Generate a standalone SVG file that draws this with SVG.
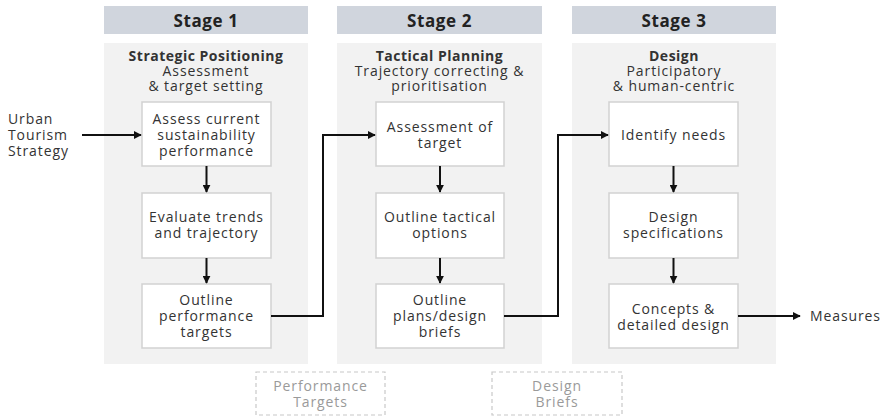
<svg xmlns="http://www.w3.org/2000/svg" width="884" height="417" viewBox="0 0 884 417">
<style>
text{font-family:"Open Sans","DejaVu Sans",sans-serif;fill:#333;text-anchor:middle}
.hdr{fill:#d0d5dd}
.hdt{font-size:17px;font-weight:bold;fill:#222;letter-spacing:0.6px}
.panel{fill:#f2f2f2}
.box{fill:#fff;stroke:#d2d2d2;stroke-width:1.5}
.t{font-size:14px;letter-spacing:0.9px}
.b{font-weight:bold;letter-spacing:0.5px}
.dash{fill:none;stroke:#c8c8c8;stroke-width:1.2;stroke-dasharray:4 3}
.dt{font-size:14px;fill:#9a9a9a;letter-spacing:0.9px}
.c{fill:none;stroke:#111;stroke-width:2}
.l{text-anchor:start}
</style>
<defs>
<marker id="ah" viewBox="0 0 10 10" refX="9" refY="5" markerWidth="4" markerHeight="4" orient="auto" markerUnits="strokeWidth">
<path d="M0,0 L10,5 L0,10 z" fill="#111"/>
</marker>
</defs>
<g id="stage1">
<rect class="hdr" x="104" y="6" width="204" height="28"/>
<text class="hdt" x="206" y="27">Stage 1</text>
<rect class="panel" x="104" y="43" width="204" height="321"/>
<text class="t b" x="206" y="61">Strategic Positioning</text>
<text class="t" x="206" y="76">Assessment</text>
<text class="t" x="206" y="91">&amp; target setting</text>
</g>
<g id="stage2">
<rect class="hdr" x="337" y="6" width="205" height="28"/>
<text class="hdt" x="439.5" y="27">Stage 2</text>
<rect class="panel" x="337" y="43" width="205" height="321"/>
<text class="t b" x="439.5" y="61">Tactical Planning</text>
<text class="t" x="439.5" y="76">Trajectory correcting &amp;</text>
<text class="t" x="439.5" y="91">prioritisation</text>
</g>
<g id="stage3">
<rect class="hdr" x="572" y="6" width="204" height="28"/>
<text class="hdt" x="674" y="27">Stage 3</text>
<rect class="panel" x="572" y="43" width="204" height="321"/>
<text class="t b" x="674" y="61">Design</text>
<text class="t" x="674" y="76">Participatory</text>
<text class="t" x="674" y="91">&amp; human-centric</text>
</g>
<g id="n-assess">
<rect class="box" x="142" y="102" width="129" height="64"/>
<text class="t" x="206.5" y="124">Assess current</text>
<text class="t" x="206.5" y="140">sustainability</text>
<text class="t" x="206.5" y="156">performance</text>
</g>
<g id="n-evaluate">
<rect class="box" x="142" y="193" width="129" height="65"/>
<text class="t" x="206.5" y="222">Evaluate trends</text>
<text class="t" x="206.5" y="238">and trajectory</text>
</g>
<g id="n-targets">
<rect class="box" x="142" y="284" width="129" height="64"/>
<text class="t" x="206.5" y="305">Outline</text>
<text class="t" x="206.5" y="321">performance</text>
<text class="t" x="206.5" y="337">targets</text>
</g>
<g id="n-asstarget">
<rect class="box" x="376" y="102" width="128" height="64"/>
<text class="t" x="440" y="132">Assessment of</text>
<text class="t" x="440" y="148">target</text>
</g>
<g id="n-tactical">
<rect class="box" x="376" y="193" width="128" height="65"/>
<text class="t" x="440" y="222">Outline tactical</text>
<text class="t" x="440" y="238">options</text>
</g>
<g id="n-plans">
<rect class="box" x="376" y="284" width="128" height="64"/>
<text class="t" x="440" y="305">Outline</text>
<text class="t" x="440" y="321">plans/design</text>
<text class="t" x="440" y="337">briefs</text>
</g>
<g id="n-needs">
<rect class="box" x="609" y="102" width="129" height="64"/>
<text class="t" x="673.5" y="140">Identify needs</text>
</g>
<g id="n-spec">
<rect class="box" x="609" y="193" width="129" height="65"/>
<text class="t" x="673.5" y="222">Design</text>
<text class="t" x="673.5" y="238">specifications</text>
</g>
<g id="n-concepts">
<rect class="box" x="609" y="284" width="129" height="64"/>
<text class="t" x="673.5" y="314">Concepts &amp;</text>
<text class="t" x="673.5" y="330">detailed design</text>
</g>
<g id="n-urban">
<text class="t l" x="8" y="124">Urban</text>
<text class="t l" x="8" y="140">Tourism</text>
<text class="t l" x="8" y="156">Strategy</text>
</g>
<g id="n-measures">
<text class="t l" x="810" y="321">Measures</text>
</g>
<g id="n-perf">
<rect class="dash" x="256" y="372" width="129" height="43"/>
<text class="dt" x="320.5" y="391">Performance</text>
<text class="dt" x="320.5" y="407">Targets</text>
</g>
<g id="n-briefs">
<rect class="dash" x="492" y="372" width="130" height="43"/>
<text class="dt" x="557" y="391">Design</text>
<text class="dt" x="557" y="407">Briefs</text>
</g>
<g id="connectors">
<path class="c" d="M82,135 H141" marker-end="url(#ah)"/>
<path class="c" d="M206.5,166 V192" marker-end="url(#ah)"/>
<path class="c" d="M206.5,258 V283" marker-end="url(#ah)"/>
<path class="c" d="M271,316 H323 V135 H375" marker-end="url(#ah)"/>
<path class="c" d="M440,166 V192" marker-end="url(#ah)"/>
<path class="c" d="M440,258 V283" marker-end="url(#ah)"/>
<path class="c" d="M504,316 H558 V135 H608" marker-end="url(#ah)"/>
<path class="c" d="M673.5,166 V192" marker-end="url(#ah)"/>
<path class="c" d="M673.5,258 V283" marker-end="url(#ah)"/>
<path class="c" d="M738,316 H800" marker-end="url(#ah)"/>
</g>
</svg>
